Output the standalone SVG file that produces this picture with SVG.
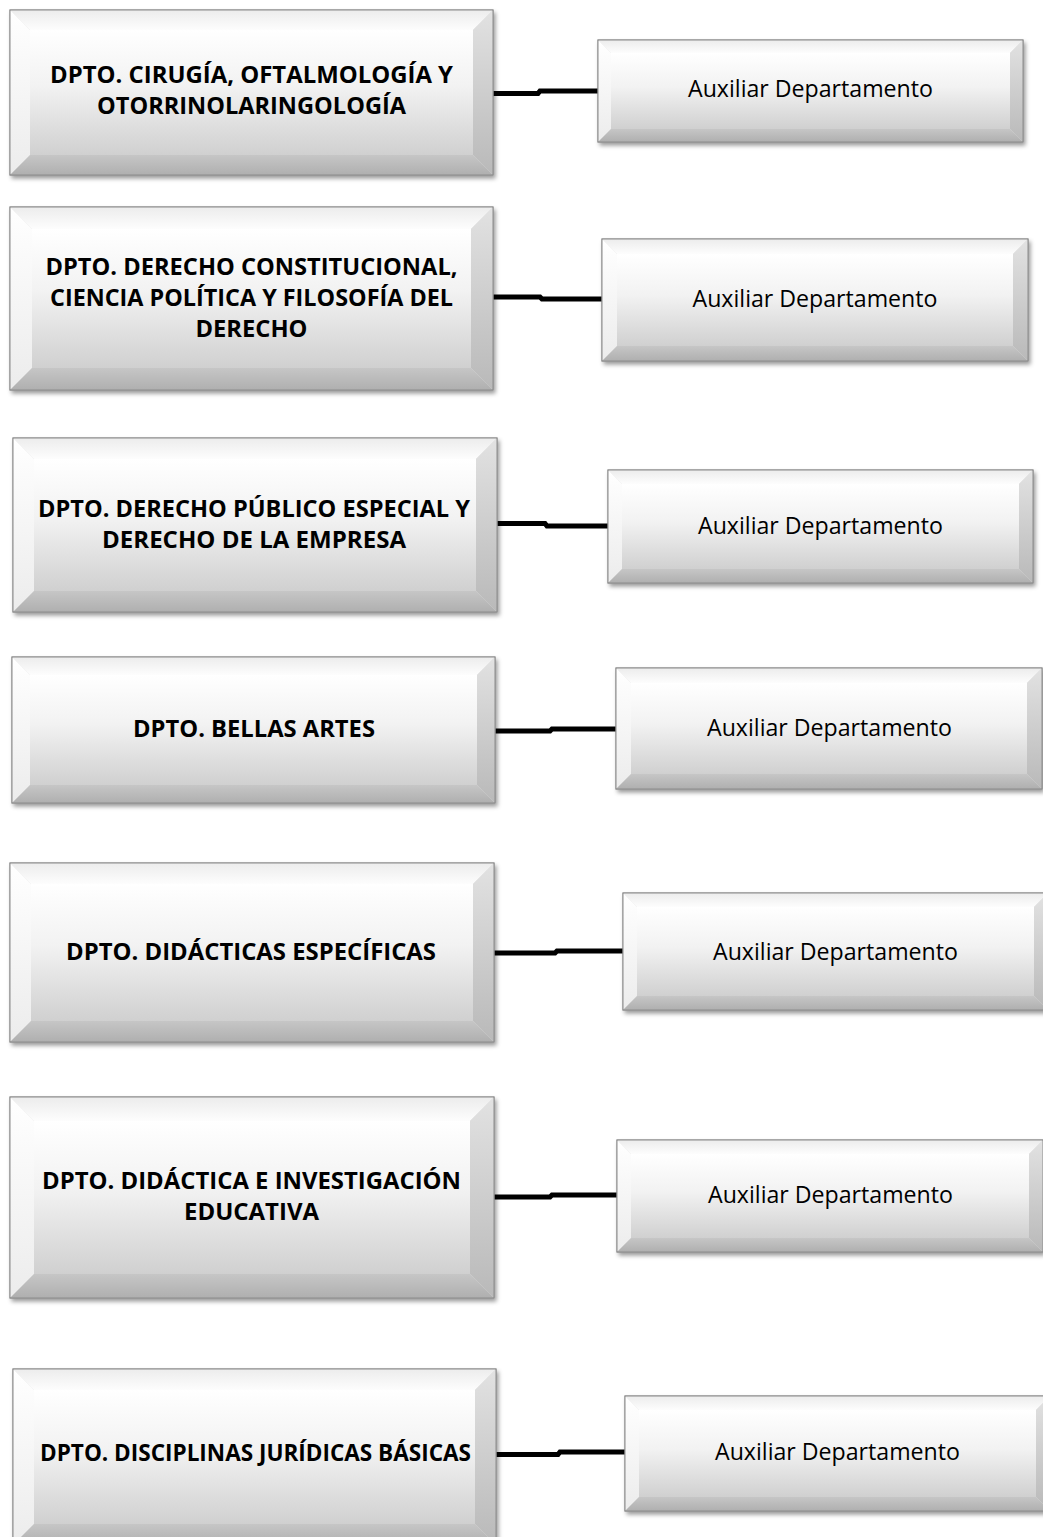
<svg xmlns="http://www.w3.org/2000/svg" width="1043" height="1537" viewBox="0 0 1043 1537">
<defs>
<linearGradient id="gInner" x1="0" y1="0" x2="0" y2="1"><stop offset="0" stop-color="#ffffff"/><stop offset="0.45" stop-color="#f2f2f2"/><stop offset="1" stop-color="#d0d0d0"/></linearGradient>
<linearGradient id="gTop" x1="0" y1="0" x2="0" y2="1"><stop offset="0" stop-color="#ececec"/><stop offset="1" stop-color="#fdfdfd"/></linearGradient>
<linearGradient id="gLeft" x1="0" y1="0" x2="0" y2="1"><stop offset="0" stop-color="#ffffff"/><stop offset="1" stop-color="#ececec"/></linearGradient>
<linearGradient id="gRight" x1="0" y1="0" x2="0" y2="1"><stop offset="0" stop-color="#e2e2e2"/><stop offset="1" stop-color="#b9b9b9"/></linearGradient>
<linearGradient id="gBottom" x1="0" y1="0" x2="0" y2="1"><stop offset="0" stop-color="#c6c6c6"/><stop offset="1" stop-color="#afafaf"/></linearGradient>
<filter id="shadow" x="-5%" y="-5%" width="112%" height="118%"><feDropShadow dx="2" dy="3" stdDeviation="2" flood-color="#000" flood-opacity="0.4"/></filter>
</defs>
<style>
.out{fill:#e0e0e0;stroke:#8c8c8c;stroke-width:1}
.in{fill:url(#gInner)}
.t{fill:url(#gTop)}
.l{fill:url(#gLeft)}
.r{fill:url(#gRight)}
.b{fill:url(#gBottom)}
.hd{font-family:"Open Sans","Liberation Sans",Arial,sans-serif;font-weight:bold;font-size:22.5px;fill:#000;text-anchor:middle}
.ax{font-family:"Open Sans","Liberation Sans",Arial,sans-serif;font-size:23.5px;fill:#000;text-anchor:middle}
.con{fill:none;stroke:#000;stroke-width:5;stroke-linejoin:miter}
</style>
<rect width="1043" height="1537" fill="#fff"/>

<g id="connectors">
<path class="con" d="M493,93.5 L538,93.5 L540,91 L598,91"/>
<path class="con" d="M493,297 L540,297 L542,299 L602,299"/>
<path class="con" d="M497,523.5 L545,523.5 L547,526 L608,526"/>
<path class="con" d="M495,731 L550,731 L552,729 L616,729"/>
<path class="con" d="M494,953 L555,953 L557,951 L623,951"/>
<path class="con" d="M494,1197 L550,1197 L552,1195 L617,1195"/>
<path class="con" d="M496,1454.5 L558,1454.5 L560,1452 L625,1452"/>
</g>

<g id="dept1" transform="translate(10,10)">
<rect class="out" width="483" height="165" filter="url(#shadow)"/>
<polygon class="t" points="0,0 483,0 463,20 20,20"/>
<polygon class="l" points="0,0 20,20 20,145 0,165"/>
<polygon class="r" points="483,0 483,165 463,145 463,20"/>
<polygon class="b" points="0,165 20,145 463,145 483,165"/>
<rect class="in" x="20" y="20" width="443" height="125"/>
<rect width="483" height="165" fill="none" stroke="#8c8c8c"/>
<text class="hd" x="241.5" y="73" textLength="403" lengthAdjust="spacingAndGlyphs">DPTO. CIRUGÍA, OFTALMOLOGÍA Y</text>
<text class="hd" x="241.5" y="104" textLength="309" lengthAdjust="spacingAndGlyphs">OTORRINOLARINGOLOGÍA</text>
</g>

<g id="dept2" transform="translate(10,207)">
<rect class="out" width="483" height="183" filter="url(#shadow)"/>
<polygon class="t" points="0,0 483,0 461,22 22,22"/>
<polygon class="l" points="0,0 22,22 22,161 0,183"/>
<polygon class="r" points="483,0 483,183 461,161 461,22"/>
<polygon class="b" points="0,183 22,161 461,161 483,183"/>
<rect class="in" x="22" y="22" width="439" height="139"/>
<rect width="483" height="183" fill="none" stroke="#8c8c8c"/>
<text class="hd" x="241.5" y="68" textLength="412" lengthAdjust="spacingAndGlyphs">DPTO. DERECHO CONSTITUCIONAL,</text>
<text class="hd" x="241.5" y="99" textLength="403" lengthAdjust="spacingAndGlyphs">CIENCIA POLÍTICA Y FILOSOFÍA DEL</text>
<text class="hd" x="241.5" y="130" textLength="112" lengthAdjust="spacingAndGlyphs">DERECHO</text>
</g>

<g id="dept3" transform="translate(13,438)">
<rect class="out" width="484" height="174" filter="url(#shadow)"/>
<polygon class="t" points="0,0 484,0 463,21 21,21"/>
<polygon class="l" points="0,0 21,21 21,153 0,174"/>
<polygon class="r" points="484,0 484,174 463,153 463,21"/>
<polygon class="b" points="0,174 21,153 463,153 484,174"/>
<rect class="in" x="21" y="21" width="442" height="132"/>
<rect width="484" height="174" fill="none" stroke="#8c8c8c"/>
<text class="hd" x="241" y="79" textLength="432" lengthAdjust="spacingAndGlyphs">DPTO. DERECHO PÚBLICO ESPECIAL Y</text>
<text class="hd" x="241" y="110" textLength="304" lengthAdjust="spacingAndGlyphs">DERECHO DE LA EMPRESA</text>
</g>

<g id="dept4" transform="translate(12,657)">
<rect class="out" width="483" height="146" filter="url(#shadow)"/>
<polygon class="t" points="0,0 483,0 465,18 18,18"/>
<polygon class="l" points="0,0 18,18 18,128 0,146"/>
<polygon class="r" points="483,0 483,146 465,128 465,18"/>
<polygon class="b" points="0,146 18,128 465,128 483,146"/>
<rect class="in" x="18" y="18" width="447" height="110"/>
<rect width="483" height="146" fill="none" stroke="#8c8c8c"/>
<text class="hd" x="242" y="80" textLength="242" lengthAdjust="spacingAndGlyphs">DPTO. BELLAS ARTES</text>
</g>

<g id="dept5" transform="translate(10,863)">
<rect class="out" width="484" height="179" filter="url(#shadow)"/>
<polygon class="t" points="0,0 484,0 463,21 21,21"/>
<polygon class="l" points="0,0 21,21 21,158 0,179"/>
<polygon class="r" points="484,0 484,179 463,158 463,21"/>
<polygon class="b" points="0,179 21,158 463,158 484,179"/>
<rect class="in" x="21" y="21" width="442" height="137"/>
<rect width="484" height="179" fill="none" stroke="#8c8c8c"/>
<text class="hd" x="241" y="97" textLength="370" lengthAdjust="spacingAndGlyphs">DPTO. DIDÁCTICAS ESPECÍFICAS</text>
</g>

<g id="dept6" transform="translate(10,1097)">
<rect class="out" width="484" height="201" filter="url(#shadow)"/>
<polygon class="t" points="0,0 484,0 460,24 24,24"/>
<polygon class="l" points="0,0 24,24 24,177 0,201"/>
<polygon class="r" points="484,0 484,201 460,177 460,24"/>
<polygon class="b" points="0,201 24,177 460,177 484,201"/>
<rect class="in" x="24" y="24" width="436" height="153"/>
<rect width="484" height="201" fill="none" stroke="#8c8c8c"/>
<text class="hd" x="241.5" y="92" textLength="419" lengthAdjust="spacingAndGlyphs">DPTO. DIDÁCTICA E INVESTIGACIÓN</text>
<text class="hd" x="241.5" y="123" textLength="135" lengthAdjust="spacingAndGlyphs">EDUCATIVA</text>
</g>

<g id="dept7" transform="translate(13,1369)">
<rect class="out" width="483" height="176" filter="url(#shadow)"/>
<polygon class="t" points="0,0 483,0 462,21 21,21"/>
<polygon class="l" points="0,0 21,21 21,155 0,176"/>
<polygon class="r" points="483,0 483,176 462,155 462,21"/>
<polygon class="b" points="0,176 21,155 462,155 483,176"/>
<rect class="in" x="21" y="21" width="441" height="134"/>
<rect width="483" height="176" fill="none" stroke="#8c8c8c"/>
<text class="hd" x="242.5" y="92" textLength="431" lengthAdjust="spacingAndGlyphs">DPTO. DISCIPLINAS JURÍDICAS BÁSICAS</text>
</g>

<g id="aux1" transform="translate(598,40)">
<rect class="out" width="425" height="102" filter="url(#shadow)"/>
<polygon class="t" points="0,0 425,0 412,13 13,13"/>
<polygon class="l" points="0,0 13,13 13,89 0,102"/>
<polygon class="r" points="425,0 425,102 412,89 412,13"/>
<polygon class="b" points="0,102 13,89 412,89 425,102"/>
<rect class="in" x="13" y="13" width="399" height="76"/>
<rect width="425" height="102" fill="none" stroke="#8c8c8c"/>
<text class="ax" x="212.5" y="57" textLength="245" lengthAdjust="spacingAndGlyphs">Auxiliar Departamento</text>
</g>

<g id="aux2" transform="translate(602,239)">
<rect class="out" width="426" height="122" filter="url(#shadow)"/>
<polygon class="t" points="0,0 426,0 411,15 15,15"/>
<polygon class="l" points="0,0 15,15 15,107 0,122"/>
<polygon class="r" points="426,0 426,122 411,107 411,15"/>
<polygon class="b" points="0,122 15,107 411,107 426,122"/>
<rect class="in" x="15" y="15" width="396" height="92"/>
<rect width="426" height="122" fill="none" stroke="#8c8c8c"/>
<text class="ax" x="213" y="68" textLength="245" lengthAdjust="spacingAndGlyphs">Auxiliar Departamento</text>
</g>

<g id="aux3" transform="translate(608,470)">
<rect class="out" width="425" height="113" filter="url(#shadow)"/>
<polygon class="t" points="0,0 425,0 411,14 14,14"/>
<polygon class="l" points="0,0 14,14 14,99 0,113"/>
<polygon class="r" points="425,0 425,113 411,99 411,14"/>
<polygon class="b" points="0,113 14,99 411,99 425,113"/>
<rect class="in" x="14" y="14" width="397" height="85"/>
<rect width="425" height="113" fill="none" stroke="#8c8c8c"/>
<text class="ax" x="212.5" y="64" textLength="245" lengthAdjust="spacingAndGlyphs">Auxiliar Departamento</text>
</g>

<g id="aux4" transform="translate(616,668)">
<rect class="out" width="426" height="121" filter="url(#shadow)"/>
<polygon class="t" points="0,0 426,0 411,15 15,15"/>
<polygon class="l" points="0,0 15,15 15,106 0,121"/>
<polygon class="r" points="426,0 426,121 411,106 411,15"/>
<polygon class="b" points="0,121 15,106 411,106 426,121"/>
<rect class="in" x="15" y="15" width="396" height="91"/>
<rect width="426" height="121" fill="none" stroke="#8c8c8c"/>
<text class="ax" x="213.5" y="68" textLength="245" lengthAdjust="spacingAndGlyphs">Auxiliar Departamento</text>
</g>

<g id="aux5" transform="translate(623,893)">
<rect class="out" width="425" height="117" filter="url(#shadow)"/>
<polygon class="t" points="0,0 425,0 411,14 14,14"/>
<polygon class="l" points="0,0 14,14 14,103 0,117"/>
<polygon class="r" points="425,0 425,117 411,103 411,14"/>
<polygon class="b" points="0,117 14,103 411,103 425,117"/>
<rect class="in" x="14" y="14" width="397" height="89"/>
<rect width="425" height="117" fill="none" stroke="#8c8c8c"/>
<text class="ax" x="212.5" y="67" textLength="245" lengthAdjust="spacingAndGlyphs">Auxiliar Departamento</text>
</g>

<g id="aux6" transform="translate(617,1140)">
<rect class="out" width="426" height="112" filter="url(#shadow)"/>
<polygon class="t" points="0,0 426,0 412,14 14,14"/>
<polygon class="l" points="0,0 14,14 14,98 0,112"/>
<polygon class="r" points="426,0 426,112 412,98 412,14"/>
<polygon class="b" points="0,112 14,98 412,98 426,112"/>
<rect class="in" x="14" y="14" width="398" height="84"/>
<rect width="426" height="112" fill="none" stroke="#8c8c8c"/>
<text class="ax" x="213.5" y="63" textLength="245" lengthAdjust="spacingAndGlyphs">Auxiliar Departamento</text>
</g>

<g id="aux7" transform="translate(625,1396)">
<rect class="out" width="425" height="115" filter="url(#shadow)"/>
<polygon class="t" points="0,0 425,0 411,14 14,14"/>
<polygon class="l" points="0,0 14,14 14,101 0,115"/>
<polygon class="r" points="425,0 425,115 411,101 411,14"/>
<polygon class="b" points="0,115 14,101 411,101 425,115"/>
<rect class="in" x="14" y="14" width="397" height="87"/>
<rect width="425" height="115" fill="none" stroke="#8c8c8c"/>
<text class="ax" x="212.5" y="64" textLength="245" lengthAdjust="spacingAndGlyphs">Auxiliar Departamento</text>
</g>
</svg>
